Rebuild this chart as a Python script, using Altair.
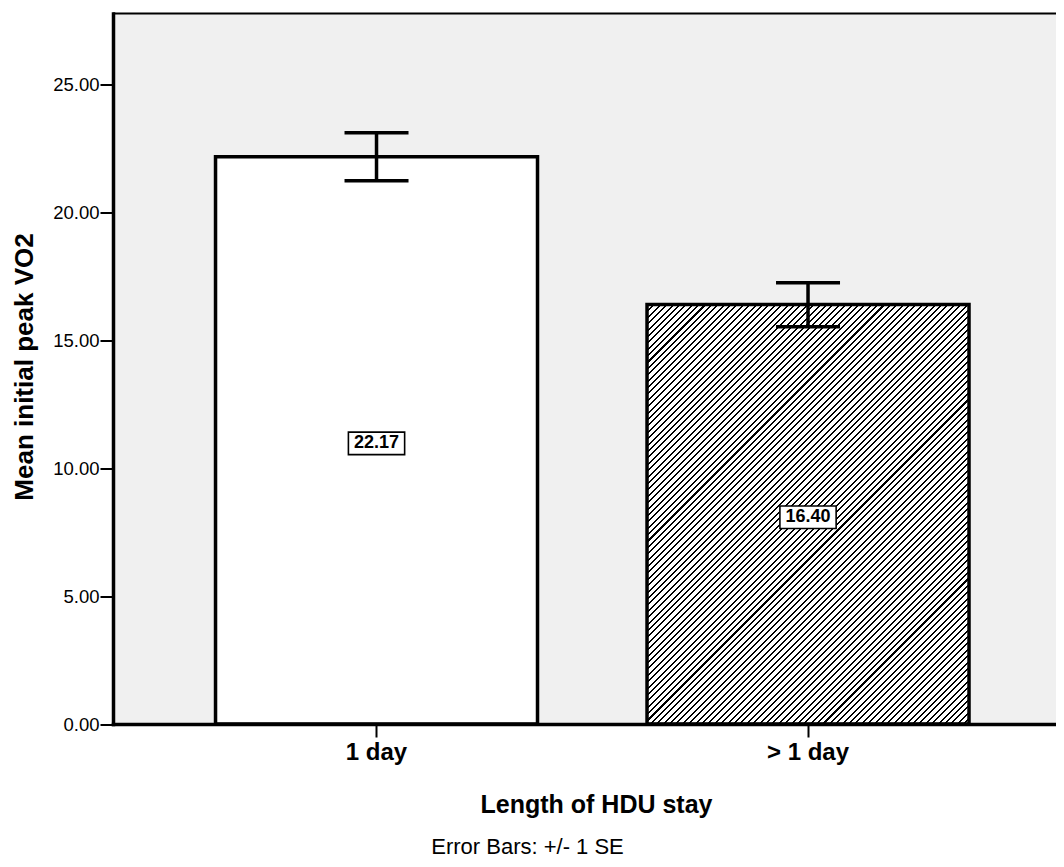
import altair as alt
import pandas as pd

# ---- data ----
categories = ["1 day", "> 1 day"]
means = [22.17, 16.40]
err_low = [21.23, 15.53]
err_high = [23.11, 17.25]
mean_labels = ["22.17", "16.40"]
y_ticks = [0, 5, 10, 15, 20, 25]
footnote = ["Error Bars: +/- 1 SE"]

df = pd.DataFrame({"cat": categories, "mean": means, "lo": err_low,
                   "hi": err_high, "label": mean_labels})

# ---- layout / style ----
FONT = "Liberation Sans"
PLOT_W = 943
PLOT_H = 710.5
Y_MAX = 27.77
P_IN, P_OUT, ALIGN = 0.2538, 0.2196, 0.541

xscale = alt.Scale(paddingInner=P_IN, paddingOuter=P_OUT, align=ALIGN)
yscale = alt.Scale(domain=[0, Y_MAX], nice=False, zero=True)

xaxis = alt.Axis(labelAngle=0, bandPosition=0.5, domainColor="black", domainWidth=3.5,
                 domainCap="square", tickColor="black", tickWidth=2, tickSize=13,
                 labelFont=FONT, labelFontSize=24, labelFontWeight="bold",
                 labelColor="black", labelPadding=3, zindex=1,
                 titleFont=FONT, titleFontSize=25, titleFontWeight="bold",
                 titleColor="black", titleX=483, titleY=80,
                 titleAlign="center", titleBaseline="middle")
yaxis = alt.Axis(values=y_ticks, format=".2f", grid=False, domainColor="black",
                 domainWidth=3.5, domainCap="square", tickColor="black", tickWidth=2,
                 tickSize=13, labelFont=FONT, labelFontSize=18.5, labelColor="black",
                 labelPadding=1, zindex=1, titleFont=FONT, titleFontSize=26,
                 titleFontWeight="bold", titleColor="black", titleAngle=270,
                 titleX=-89, titleY=353, titleAlign="center", titleBaseline="middle")

XT = "Length of HDU stay"
YT = "Mean initial peak VO2"


def X():
    return alt.X("cat:N", sort=categories, scale=xscale, axis=xaxis, title=XT)


def Y(field):
    return alt.Y(field, scale=yscale, axis=yaxis, title=YT)


# ---- hatch fill as a striped linear gradient (bounding-box units) ----
step = PLOT_W / (2 - P_IN + 2 * P_OUT)
bw = step * (1 - P_IN)
bh = means[1] / Y_MAX * PLOT_H
s = (bw + bh) / (bw ** 2 + bh ** 2)
spacing = 6.4
n_stripes = int(round((bw + bh) / spacing))
frac = 0.32
stops = []
for k in range(n_stripes):
    a = k / n_stripes
    b = (k + frac) / n_stripes
    stops += [alt.GradientStop(offset=a, color="white"),
              alt.GradientStop(offset=a, color="black"),
              alt.GradientStop(offset=b, color="black"),
              alt.GradientStop(offset=b, color="white")]
stops.append(alt.GradientStop(offset=1, color="white"))
hatch = alt.LinearGradient(gradient="linear", stops=stops,
                           x1=0, y1=0, x2=s * bw, y2=s * bh)

base = alt.Chart(df)

panel = alt.Chart(pd.DataFrame({"top": [Y_MAX]})).mark_rect(
    fill="#f0f0f0", strokeWidth=0).encode(
    x=alt.value(0), x2=alt.value(PLOT_W), y=Y("top:Q"), y2=alt.value(PLOT_H))

bar_plain = base.transform_filter(alt.datum.cat == categories[0]).mark_bar(
    fill="white", stroke="black", strokeWidth=3.5, strokeJoin="miter"
).encode(x=X(), y=Y("mean:Q"))

bar_hatch = base.transform_filter(alt.datum.cat == categories[1]).mark_bar(
    fill=hatch, stroke="black", strokeWidth=3.5, strokeJoin="miter"
).encode(x=X(), y=Y("mean:Q"))

err_rule = base.mark_rule(color="black", strokeWidth=3.5).encode(
    x=X(), y=Y("lo:Q"), y2="hi:Q")
cap_lo = base.mark_tick(color="black", size=64, thickness=3.5, opacity=1).encode(
    x=X(), y=Y("lo:Q"))
cap_hi = base.mark_tick(color="black", size=64, thickness=3.5, opacity=1).encode(
    x=X(), y=Y("hi:Q"))

lab = base.transform_calculate(mid="datum.mean / 2")
label_box = lab.mark_point(shape="M-2.5,-1H2.5V1H-2.5Z", size=506, filled=True,
                           fill="white", stroke="black", strokeWidth=1.6,
                           opacity=1, yOffset=3).encode(x=X(), y=Y("mid:Q"))
label_txt = lab.mark_text(font=FONT, fontSize=18, fontWeight="bold", color="black",
                          align="center", baseline="middle", yOffset=3).encode(
    x=X(), y=Y("mid:Q"), text="label:N")

top_border = alt.Chart(pd.DataFrame({"top": [Y_MAX]})).mark_rule(
    color="black", strokeWidth=2).encode(
    y=Y("top:Q"), x=alt.value(0), x2=alt.value(PLOT_W))

note = alt.Chart(pd.DataFrame({"note": footnote})).mark_text(
    font=FONT, fontSize=22, color="black", align="center", baseline="alphabetic"
).encode(text="note:N", x=alt.value(527.5 - 113), y=alt.value(853.5 - 13.5))

chart = alt.layer(
    panel, bar_plain, bar_hatch, err_rule, cap_lo, cap_hi, label_box, label_txt,
    top_border, note
).properties(
    width=PLOT_W, height=PLOT_H,
    autosize=alt.AutoSizeParams(type="none"),
    padding={"left": 105, "top": 5.5, "right": 0, "bottom": 134},
    background="white",
).configure_view(
    stroke="transparent"
).configure(font=FONT)

chart.save("out.html", embed_options={"renderer": "svg", "actions": False})
